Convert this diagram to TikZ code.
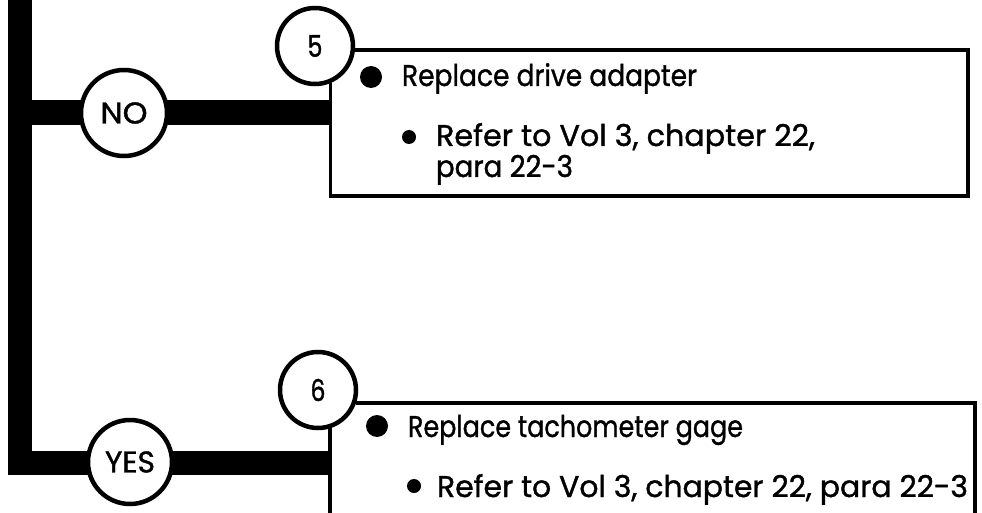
\documentclass[tikz,border=0pt]{standalone}
\usepackage{fontspec}
\setmainfont{Poppins}[FakeBold=1.2]
\usepackage{graphicx}
\newcommand\txtsize{\fontsize{30}{34}\selectfont}
% text set at a fixed width, keeping its natural height
\newcommand\W[2]{\resizebox{#1pt}{\height}{\txtsize #2}}
\begin{document}
\begin{tikzpicture}[x=1pt,y=-1pt,
  bar/.style={line width=24pt, line join=miter, line cap=butt},
  boxline/.style={line width=3.5pt, line join=miter},
  labcirc/.style={circle, draw, line width=4.5pt, fill=white, inner sep=0pt},
  bigdot/.style={circle, fill, inner sep=0pt, minimum size=22pt},
  smalldot/.style={circle, fill, inner sep=0pt, minimum size=14pt},
  txt/.style={inner sep=0pt, outer sep=0pt, anchor=base west}]
\useasboundingbox (0,0) rectangle (982,513);
% trunk and branches
\coordinate (top) at (20,-2);
\coordinate (jn) at (20,113);
\coordinate (jy) at (20,463);
\coordinate (bn) at (330,113);
\coordinate (by) at (330,463);
\draw[bar] (top) -- (jy) -- (by);
\draw[bar, line width=25pt] (jn) -- (bn);
% decision circles
\node[labcirc, minimum size=86pt] (no) at (124,113) {\W{47}{NO}};
\node[labcirc, minimum size=84pt] (yes) at (130,462) {\W{50}{YES}};
\node[labcirc, minimum size=76pt] (c5) at (315,46) {\W{15}{5}};
\node[labcirc, minimum size=76pt] (c6) at (318,390) {\W{15}{6}};
% boxes
\draw[boxline] (c5.-6) -| (968,196) -| (c5.-67);
\draw[boxline] (c6.-19) -| (975,530);
\draw[boxline] (c6.-73) -- ++(0,120);
% box 5 contents
\node[bigdot] (d5) at (371,77) {};
\node[txt] (t5a) at (402,86) {\W{295}{Replace drive adapter}};
\node[smalldot] (s5) at (409,137) {};
\node[txt] (t5b) at (436,146) {\W{379}{Refer to Vol 3, chapter 22,}};
\node[txt] (t5c) at (436,177) {\W{137}{para 22-3}};
% box 6 contents
\node[bigdot] (d6) at (377,426) {};
\node[txt] (t6a) at (408,437) {\W{335}{Replace tachometer gage}};
\node[smalldot] (s6) at (414,486) {};
\node[txt] (t6b) at (437,497) {\W{531}{Refer to Vol 3, chapter 22, para 22-3}};
\end{tikzpicture}
\end{document}
